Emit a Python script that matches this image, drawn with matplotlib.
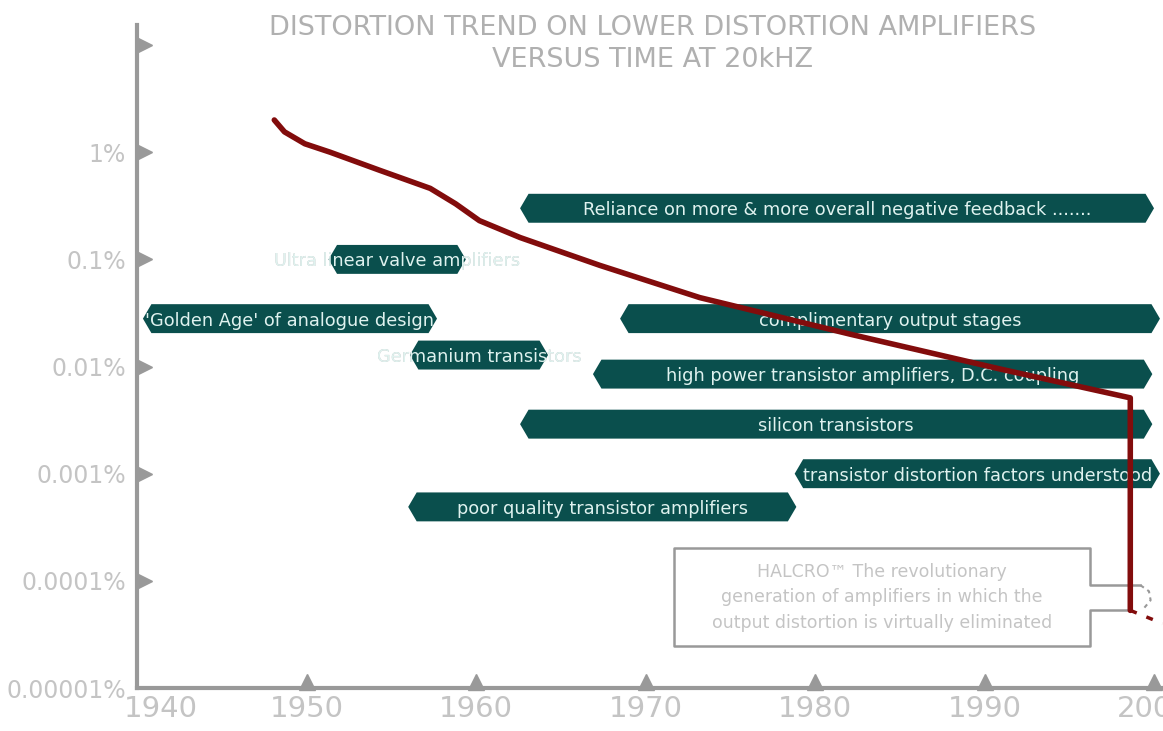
import matplotlib
matplotlib.use("Agg")
from matplotlib import pyplot as plt
from matplotlib.patches import Polygon
from matplotlib.transforms import ScaledTranslation
import numpy as np

# distortion trend (year, % distortion at 20kHz)
years = [1948.1, 1948.7, 1949.9, 1951.4, 1954.3, 1957.3, 1958.8, 1960.2, 1962.6,
         1967.3, 1973.2, 1982.1, 1990.9, 1998.6, 1998.6]
distortion = [2.0, 1.55, 1.2, 1.0, 0.68, 0.46, 0.33, 0.23, 0.16,
              0.088, 0.044, 0.020, 0.0095, 0.0051, 0.000053]
tail_years = [1998.6, 2000.5]
tail_distortion = [0.000053, 0.000040]

# timeline bars
bar_labels = ["Reliance on more & more overall negative feedback .......",
              "Ultra linear valve amplifiers",
              "'Golden Age' of analogue design",
              "complimentary output stages",
              "Germanium transistors",
              "high power transistor amplifiers, D.C. coupling",
              "silicon transistors",
              "transistor distortion factors understood",
              "poor quality transistor amplifiers"]
bar_start = [1962.6, 1951.3, 1940.35, 1968.5, 1956.1, 1966.9, 1962.6, 1978.8, 1956.0]
bar_end = [2000.0, 1959.4, 1957.7, 2000.35, 1964.25, 1999.9, 1999.9, 2000.35, 1978.9]
bar_level = [0.30, 0.1, 0.028, 0.028, 0.0128, 0.0085, 0.0029, 0.001, 0.00049]

xticks = [1940, 1950, 1960, 1970, 1980, 1990, 2000]
yticks = [1e-5, 1e-4, 1e-3, 1e-2, 1e-1, 1, 10]
ytick_labels = ["0.00001%", "0.0001%", "0.001%", "0.01%", "0.1%", "1%", ""]

callout = ("HALCRO\u2122 The revolutionary\n"
           "generation of amplifiers in which the\n"
           "output distortion is virtually eliminated")

teal = "#0a4f4d"
red = "#820c0c"
grey = "#999999"
light = "#c4c4c4"

fig = plt.figure(figsize=(11.63, 7.31), dpi=100)
ax = fig.add_axes([137 / 1163, 43 / 731, 1026 / 1163, 663 / 731])
ax.set_yscale("log")
ax.set_xlim(1940, 2000.53)
ax.set_ylim(1e-5, 15.4)

for s in ["top", "right"]:
    ax.spines[s].set_visible(False)
for s in ["left", "bottom"]:
    ax.spines[s].set_color(grey)
    ax.spines[s].set_linewidth(3)

ax.set_xticks(xticks)
ax.set_xticklabels([str(x) for x in xticks])
ax.set_yticks(yticks)
ax.set_yticklabels(ytick_labels)
ax.minorticks_off()
ax.tick_params(axis="both", length=0, colors=light)
ax.tick_params(axis="y", labelsize=17, pad=8)
ax.tick_params(axis="x", labelsize=21, pad=5)
off = ScaledTranslation(0.24, 0, fig.dpi_scale_trans)
first = ax.get_xticklabels()[0]
first.set_transform(first.get_transform() + off)

# triangle tick marks
tr_y = ax.transData + ScaledTranslation(0.07, 0, fig.dpi_scale_trans)
ax.plot([1940] * 6, yticks[1:], ls="none", marker=">", ms=11, color=grey,
        clip_on=False, transform=tr_y, zorder=6)
tr_x = ax.transData + ScaledTranslation(0, 0.06, fig.dpi_scale_trans)
ax.plot(xticks[1:], [1e-5] * 6, ls="none", marker="^", ms=11, color=grey,
        clip_on=False, transform=tr_x, zorder=6)

# bars with chevron ends
h = 10 ** 0.135
p = 0.5
for lab, x0, x1, lv in zip(bar_labels, bar_start, bar_end, bar_level):
    xs = [x0, x0 + p, x1 - p, x1, x1 - p, x0 + p]
    ys = [lv, lv * h, lv * h, lv, lv / h, lv / h]
    poly = Polygon(np.column_stack([xs, ys]), closed=True, facecolor=teal,
                   edgecolor="none", zorder=3)
    ax.add_patch(poly)
    xc = (x0 + x1) / 2
    ax.text(xc, lv, lab, ha="center", va="center_baseline", fontsize=12.8,
            color="#bdbdbd", zorder=2)
    t = ax.text(xc, lv, lab, ha="center", va="center_baseline", fontsize=12.8,
                color="#dff2ef", zorder=4)
    t.set_clip_path(poly)

# distortion curve
ax.plot(years, distortion, color=red, lw=4, solid_capstyle="round",
        solid_joinstyle="round", zorder=5)
ax.plot(tail_years, tail_distortion, color=red, lw=2.5, ls=(0, (2, 3)), zorder=5)

# callout box
bx = [1999.2, 1996.2, 1996.2, 1971.7, 1971.7, 1996.2, 1996.2, 1998.5]
by = [9.1e-5, 9.1e-5, 2.02e-4, 2.02e-4, 2.47e-5, 2.47e-5, 5.3e-5, 5.3e-5]
ax.plot(bx, by, color=grey, lw=1.8, zorder=4)
ax.plot([1999.2, 1999.7, 1999.8, 1999.3], [9.1e-5, 8.0e-5, 6.6e-5, 5.3e-5],
        color=grey, lw=1.5, ls=(0, (2, 2)), zorder=4)
ax.text(1983.95, 7.0e-5, callout, ha="center", va="center", fontsize=12.5,
        color=light, linespacing=1.55, zorder=4)

fig.text(653 / 1163, 1 - 28 / 731, "DISTORTION TREND ON LOWER DISTORTION AMPLIFIERS",
         ha="center", va="center", fontsize=19.5, color="#b0b0b0")
fig.text(653 / 1163, 1 - 60 / 731, "VERSUS TIME AT 20kHZ",
         ha="center", va="center", fontsize=19.5, color="#b0b0b0")

fig.savefig("out.png", dpi=100)
